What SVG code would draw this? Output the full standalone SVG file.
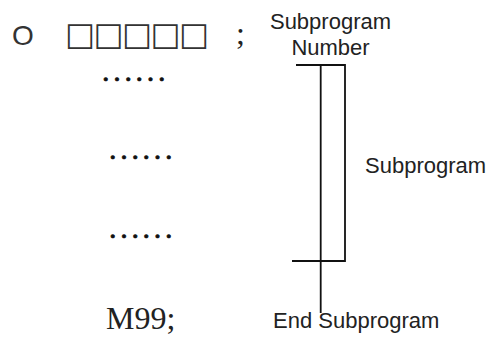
<svg xmlns="http://www.w3.org/2000/svg" width="487" height="338" viewBox="0 0 487 338">
  <style>
    .code { font-family: "Liberation Serif", "Times New Roman", serif; font-size: 32px; fill: #222; }
    .dots { font-family: "Liberation Serif", "Times New Roman", serif; font-size: 30px; fill: #111; stroke: #111; stroke-width: 0.7; letter-spacing: 3.7px; }
    .label { font-family: "Liberation Sans", Arial, sans-serif; font-size: 22px; fill: #222; }
    .letter { font-family: "Liberation Sans", Arial, sans-serif; font-size: 28px; fill: #333; }
    .boxes { font-family: "DejaVu Sans", sans-serif; font-size: 32px; fill: #333; }
    .bracket { fill: none; stroke: #111; stroke-width: 1.8; }
  </style>
  <rect width="487" height="338" fill="#fff"/>

  <!-- program listing -->
  <g id="program-header">
    <text class="letter" x="12" y="45">O</text>
    <text class="boxes" x="65 93.5 122 150.5 179" y="45">□□□□□</text>
    <text class="code" x="236" y="44">;</text>
  </g>
  <g id="body-1"><text class="dots" x="102" y="81">......</text></g>
  <g id="body-2"><text class="dots" x="109" y="159">......</text></g>
  <g id="body-3"><text class="dots" x="109" y="238">......</text></g>
  <g id="program-end"><text class="code" x="106" y="329">M99;</text></g>

  <!-- labels -->
  <g id="label-number">
    <text class="label" x="330.5" y="29" text-anchor="middle">Subprogram</text>
    <text class="label" x="330.5" y="55" text-anchor="middle">Number</text>
  </g>
  <g id="label-subprogram"><text class="label" x="365" y="173">Subprogram</text></g>
  <g id="label-end"><text class="label" x="273" y="328">End Subprogram</text></g>

  <!-- bracket and leader lines -->
  <g id="connectors">
    <polyline class="bracket" points="296,65 345,65 345,261 292,261"/>
    <line class="bracket" x1="320.7" y1="65" x2="320.7" y2="313"/>
  </g>
</svg>
